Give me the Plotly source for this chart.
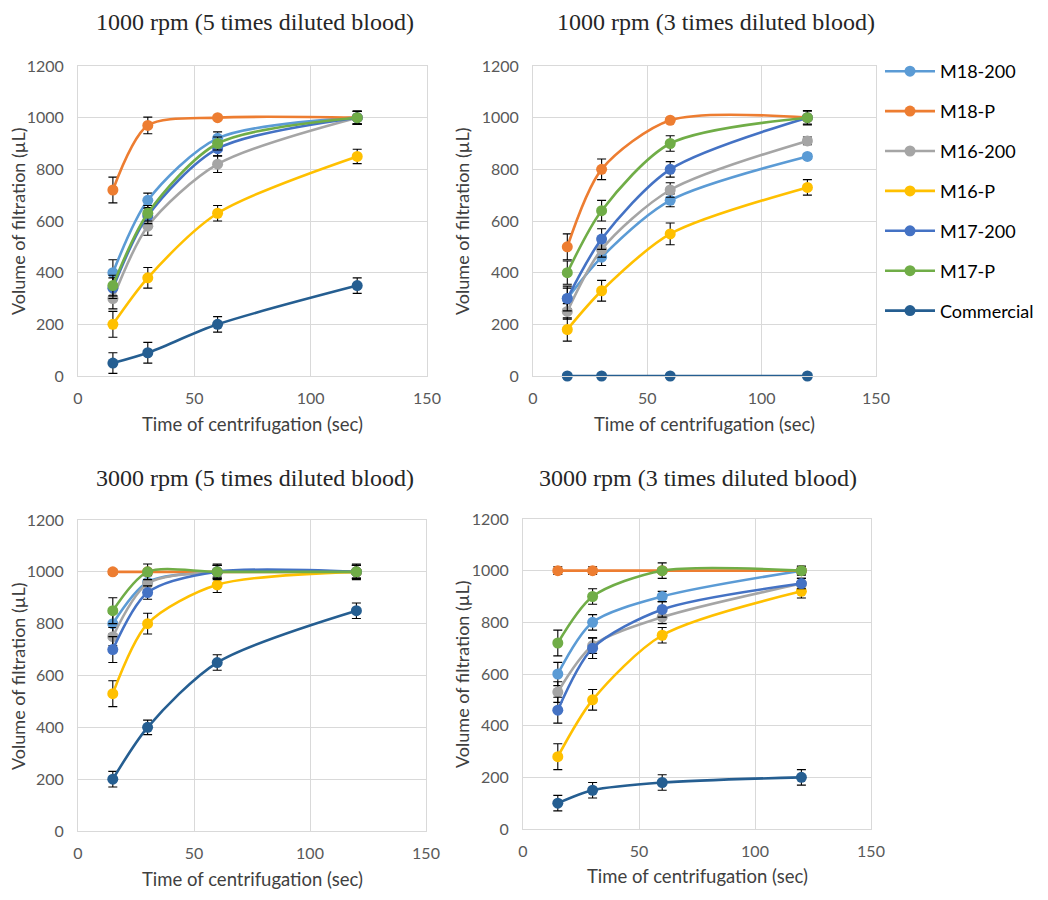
import plotly.graph_objects as go

W, H = 1048, 900

times = [15, 30, 60, 120]
series_names = ["M18-200", "M18-P", "M16-200", "M16-P", "M17-200", "M17-P", "Commercial"]
series_colors = ["#5B9BD5", "#ED7D31", "#A5A5A5", "#FFC000", "#4472C4", "#70AD47", "#255E91"]

panel_titles = [
    "1000 rpm (5 times diluted blood)",
    "1000 rpm (3 times diluted blood)",
    "3000 rpm (5 times diluted blood)",
    "3000 rpm (3 times diluted blood)",
]

# Panel A: 1000 rpm, 5x diluted
a_m18_200 = [400, 680, 920, 1000]
a_m18_p = [720, 970, 1000, 1000]
a_m16_200 = [300, 580, 820, 1000]
a_m16_p = [200, 380, 630, 850]
a_m17_200 = [340, 620, 880, 1000]
a_m17_p = [350, 630, 900, 1000]
a_comm = [50, 90, 200, 350]
a_err = [[50, 28, 25, 25], [50, 32, 5, 25], [40, 35, 32, 25], [50, 40, 30, 28],
         [40, 30, 28, 25], [40, 30, 25, 25], [40, 40, 30, 30]]

# Panel B: 1000 rpm, 3x diluted
b_m18_200 = [300, 460, 680, 850]
b_m18_p = [500, 800, 990, 1000]
b_m16_200 = [250, 490, 720, 910]
b_m16_p = [180, 330, 550, 730]
b_m17_200 = [300, 530, 800, 1000]
b_m17_p = [400, 640, 900, 1000]
b_comm = [0, 0, 0, 0]
b_err = [[40, 32, 25, 10], [50, 40, 5, 10], [30, 30, 28, 15], [45, 40, 42, 30],
         [48, 40, 30, 25], [45, 40, 30, 28], [0, 0, 0, 0]]

# Panel C: 3000 rpm, 5x diluted
c_m18_200 = [800, 960, 1000, 1000]
c_m18_p = [1000, 1000, 1000, 1000]
c_m16_200 = [750, 955, 1000, 1000]
c_m16_p = [530, 800, 950, 1000]
c_m17_200 = [700, 920, 1000, 1000]
c_m17_p = [850, 1000, 1000, 1000]
c_comm = [200, 400, 650, 850]
c_err = [[40, 30, 25, 25], [10, 10, 10, 10], [35, 30, 25, 25], [50, 40, 30, 25],
         [50, 26, 25, 25], [50, 30, 30, 30], [30, 28, 30, 30]]

# Panel D: 3000 rpm, 3x diluted
d_m18_200 = [600, 800, 900, 1000]
d_m18_p = [1000, 1000, 1000, 1000]
d_m16_200 = [530, 710, 820, 950]
d_m16_p = [280, 500, 750, 920]
d_m17_200 = [460, 700, 850, 950]
d_m17_p = [720, 900, 1000, 1000]
d_comm = [100, 150, 180, 200]
d_err = [[45, 30, 20, 15], [15, 15, 10, 10], [40, 30, 25, 20], [50, 40, 30, 26],
         [50, 40, 30, 20], [50, 30, 30, 18], [30, 30, 30, 30]]

panels = [
    [a_m18_200, a_m18_p, a_m16_200, a_m16_p, a_m17_200, a_m17_p, a_comm],
    [b_m18_200, b_m18_p, b_m16_200, b_m16_p, b_m17_200, b_m17_p, b_comm],
    [c_m18_200, c_m18_p, c_m16_200, c_m16_p, c_m17_200, c_m17_p, c_comm],
    [d_m18_200, d_m18_p, d_m16_200, d_m16_p, d_m17_200, d_m17_p, d_comm],
]
panel_errs = [a_err, b_err, c_err, d_err]

x_ticks = [0, 50, 100, 150]
y_ticks = [0, 200, 400, 600, 800, 1000, 1200]

# plot-area pixel boxes (left, right, top, bottom)
boxes = [(78, 427, 66, 376), (533, 876, 66, 376), (78, 426, 520, 831), (523, 871, 519, 829)]

SANS = "Lato, 'Open Sans', sans-serif"
SERIF = "'Liberation Serif', 'DejaVu Serif', serif"

fig = go.Figure()

for p, (vals, errs) in enumerate(zip(panels, panel_errs)):
    xa = "x" if p == 0 else f"x{p+1}"
    ya = "y" if p == 0 else f"y{p+1}"
    for i, name in enumerate(series_names):
        has_err = any(e > 0 for e in errs[i])
        fig.add_trace(go.Scatter(
            x=times, y=vals[i], name=name, xaxis=xa, yaxis=ya,
            mode="lines+markers", cliponaxis=False,
            line=dict(color=series_colors[i], width=2.6, shape="spline", smoothing=0.8),
            marker=dict(color=series_colors[i], size=11),
            error_y=dict(type="data", array=errs[i], visible=has_err,
                         color="#000000", thickness=1.1, width=4.5),
            legendgroup=name, showlegend=(p == 0),
        ))

layout_axes = {}
for p, (l, r, t, b) in enumerate(boxes):
    sx = "" if p == 0 else str(p + 1)
    layout_axes[f"xaxis{sx}"] = dict(
        domain=[l / W, r / W], anchor=f"y{sx}", range=[0, 150], automargin=False,
        tickvals=x_ticks, showgrid=True, gridcolor="#D9D9D9", gridwidth=1,
        showline=True, linecolor="#D9D9D9", mirror=True, zeroline=False,
        ticks="", ticklabelstandoff=8,
        tickfont=dict(family=SANS, size=16, color="#595959"),
    )
    layout_axes[f"yaxis{sx}"] = dict(
        domain=[1 - b / H, 1 - t / H], anchor=f"x{sx}", range=[0, 1200], automargin=False,
        tickvals=y_ticks, showgrid=True, gridcolor="#D9D9D9", gridwidth=1,
        showline=True, linecolor="#D9D9D9", mirror=True, zeroline=False,
        ticks="", ticklabelstandoff=10,
        tickfont=dict(family=SANS, size=16, color="#595959"),
    )

annotations = []
title_pos = [(255, 22), (716, 22), (255, 478), (698, 478)]
for (tx, ty), txt in zip(title_pos, panel_titles):
    annotations.append(dict(text=txt, x=tx / W, y=1 - ty / H, xref="paper", yref="paper",
                            showarrow=False, xanchor="center", yanchor="middle",
                            font=dict(family=SERIF, size=24, color="#262626")))
xt_pos = [(252, 424), (704, 424), (252, 879), (697, 876)]
for tx, ty in xt_pos:
    annotations.append(dict(text="Time of centrifugation (sec)", x=tx / W, y=1 - ty / H,
                            xref="paper", yref="paper", showarrow=False,
                            xanchor="center", yanchor="middle",
                            font=dict(family=SANS, size=18.5, color="#404040")))
yt_pos = [(18, 221), (462, 221), (18, 676), (462, 674)]
for tx, ty in yt_pos:
    annotations.append(dict(text="Volume of filtration (µL)", x=tx / W, y=1 - ty / H,
                            xref="paper", yref="paper", showarrow=False, textangle=-90,
                            xanchor="center", yanchor="middle",
                            font=dict(family=SANS, size=18, color="#404040")))

fig.update_layout(
    width=W, height=H,
    margin=dict(l=0, r=0, t=0, b=0, autoexpand=False),
    paper_bgcolor="white", plot_bgcolor="white",
    showlegend=True,
    legend=dict(x=880 / W, y=1 - 53 / H, xanchor="left", yanchor="top",
                font=dict(family=SANS, size=18, color="#000000"),
                tracegroupgap=13.5, itemwidth=50, bgcolor="rgba(0,0,0,0)"),
    annotations=annotations,
    **layout_axes,
)

fig.write_html("out.html",
               post_script="document.body.style.margin='0';document.body.style.overflow='hidden';")
